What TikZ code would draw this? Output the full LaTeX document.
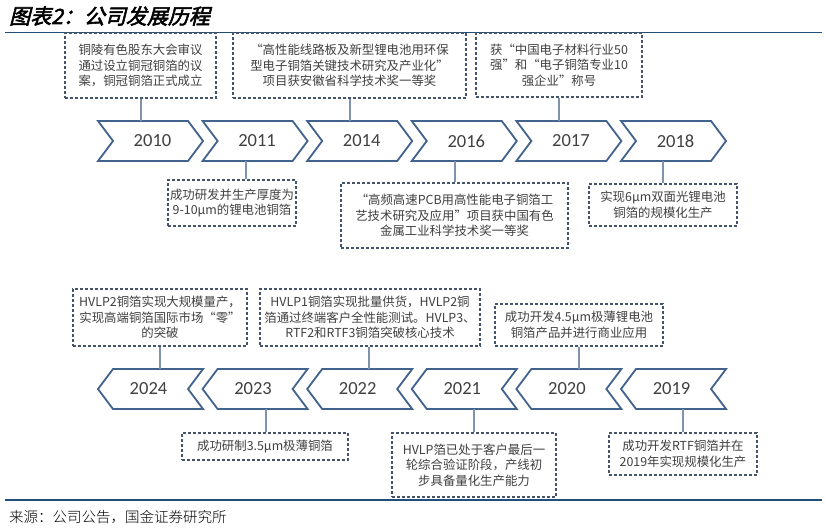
\documentclass[tikz,border=0pt]{standalone}
\usepackage{fontspec}
\setmainfont{Carlito}
\newfontfamily\cjk{Noto Sans CJK SC}
\newfontfamily\cjktitle[FakeSlant=0.25,FakeBold=2.5]{Noto Sans CJK SC}
\newfontfamily\cjkfoot{Noto Sans CJK SC Light}
\begin{document}
\begin{tikzpicture}[x=1pt,y=-1pt,
  chev/.style={draw=chevblue,line width=1.8pt,line join=miter},
  year/.style={minimum width=105pt,minimum height=40pt,inner sep=0pt,text=txtgray,font=\fontsize{18.5}{18.5}\selectfont},
  evbox/.style={draw=boxblue,dash pattern=on 3pt off 2pt,line width=1.3pt,inner sep=0pt,text=txtgray,align=center,font=\cjk\fontsize{12.4}{15.5}\selectfont},
  conn/.style={draw=lineblue,line width=1.2pt}]
\definecolor{chevblue}{HTML}{41638E}
\definecolor{boxblue}{HTML}{44546A}
\definecolor{lineblue}{HTML}{7F93AE}
\definecolor{txtgray}{HTML}{404040}
\definecolor{rule}{HTML}{1F4E79}
\useasboundingbox (0,0) rectangle (826,529);
\fill[white] (0,0) rectangle (826,529);
\node[anchor=west,inner sep=0pt,font=\cjktitle\fontsize{21}{22}\selectfont] (title) at (9,16) {图表2：公司发展历程};
\coordinate (r1a) at (5,32.5); \coordinate (r1b) at (822,32.5);
\draw[rule,line width=1.2pt] (r1a) -- (r1b);
\coordinate (r2a) at (5,500); \coordinate (r2b) at (822,500);
\draw[rule,line width=1.2pt] (r2a) -- (r2b);
\node[anchor=west,inner sep=0pt,font=\cjkfoot\fontsize{14.5}{16}\selectfont] (src) at (9,517) {来源：公司公告，国金证券研究所};
% top row chevrons (right pointing)
\foreach \i/\yr in {0/2010,1/2011,2/2014,3/2016,4/2017,5/2018}{
  \pgfmathsetmacro\xa{98+104.6*\i}\pgfmathsetmacro\xb{\xa+105}
  \draw[chev] (\xa,121) -- (\xb-15,121) -- (\xb,141) -- (\xb-15,161) -- (\xa,161) -- (\xa+15,141) -- cycle;
  \node[year] (c\yr) at ({(\xa+\xb)/2+2},141) {\yr};
}
% bottom row chevrons (left pointing)
\foreach \i/\yr in {0/2024,1/2023,2/2022,3/2021,4/2020,5/2019}{
  \pgfmathsetmacro\xa{98+104.6*\i}\pgfmathsetmacro\xb{\xa+105}
  \draw[chev] (\xa,389) -- (\xa+15,369) -- (\xb,369) -- (\xb-15,389) -- (\xb,409) -- (\xa+15,409) -- cycle;
  \node[year] (c\yr) at ({(\xa+\xb)/2-2},389) {\yr};
}
% boxes
\node[evbox,minimum width=151pt,minimum height=65pt] (b2010) at (140.5,65.5) {铜陵有色股东大会审议\\通过设立铜冠铜箔的议\\案，铜冠铜箔正式成立};
\node[evbox,minimum width=233pt,minimum height=65pt] (b2014) at (349.5,65.5) {“高性能线路板及新型锂电池用环保\\型电子铜箔关键技术研究及产业化”\\项目获安徽省科学技术奖一等奖};
\node[evbox,minimum width=166pt,minimum height=64pt] (b2017) at (559,65) {获“中国电子材料行业50\\强”和“电子铜箔专业10\\强企业”称号};
\node[evbox,minimum width=128pt,minimum height=46pt] (b2011) at (232,203) {成功研发并生产厚度为\\9-10μm的锂电池铜箔};
\node[evbox,minimum width=227pt,minimum height=65pt] (b2016) at (454.5,215.5) {“高频高速PCB用高性能电子铜箔工\\艺技术研究及应用”项目获中国有色\\金属工业科学技术奖一等奖};
\node[evbox,minimum width=148pt,minimum height=42pt] (b2018) at (663,205) {实现6μm双面光锂电池\\铜箔的规模化生产};
\node[evbox,minimum width=174pt,minimum height=57pt] (b2024) at (160,317.5) {HVLP2铜箔实现大规模量产，\\实现高端铜箔国际市场“零”\\的突破};
\node[evbox,minimum width=220pt,minimum height=57pt] (b2022) at (370,317.5) {HVLP1铜箔实现批量供货，HVLP2铜\\箔通过终端客户全性能测试。HVLP3、\\RTF2和RTF3铜箔突破核心技术};
\node[evbox,minimum width=168pt,minimum height=42pt] (b2020) at (579,325) {成功开发4.5μm极薄锂电池\\铜箔产品并进行商业应用};
\node[evbox,minimum width=166pt,minimum height=27pt] (b2023) at (265,446.5) {成功研制3.5μm极薄铜箔};
\node[evbox,minimum width=164pt,minimum height=64pt] (b2021) at (474,465) {HVLP箔已处于客户最后一\\轮综合验证阶段，产线初\\步具备量化生产能力};
\node[evbox,minimum width=148pt,minimum height=42pt] (b2019) at (683,454) {成功开发RTF铜箔并在\\2019年实现规模化生产};
% connectors
\draw[conn] (b2010.south -| 141,0) -- (c2010.north -| 141,0);
\draw[conn] (b2014.south -| 350,0) -- (c2014.north -| 350,0);
\draw[conn] (b2017.south -| 559,0) -- (c2017.north -| 559,0);
\draw[conn] (c2011.south -| 246,0) -- (b2011.north -| 246,0);
\draw[conn] (c2016.south -| 455,0) -- (b2016.north -| 455,0);
\draw[conn] (c2018.south -| 663,0) -- (b2018.north -| 663,0);
\draw[conn] (b2024.south -| 160,0) -- (c2024.north -| 160,0);
\draw[conn] (b2022.south -| 369,0) -- (c2022.north -| 369,0);
\draw[conn] (b2020.south -| 579,0) -- (c2020.north -| 579,0);
\draw[conn] (c2023.south -| 266,0) -- (b2023.north -| 266,0);
\draw[conn] (c2021.south -| 474,0) -- (b2021.north -| 474,0);
\draw[conn] (c2019.south -| 683,0) -- (b2019.north -| 683,0);
\end{tikzpicture}
\end{document}
